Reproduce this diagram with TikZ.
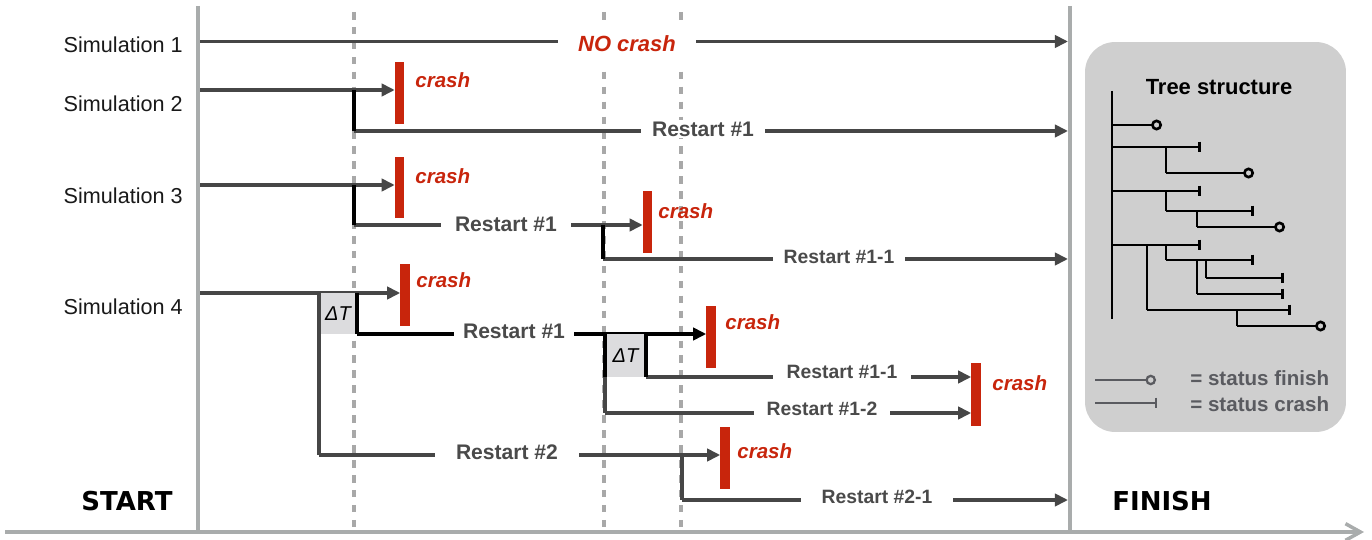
\documentclass[tikz,border=0pt]{standalone}
\usepackage{fontspec}
\setmainfont{Liberation Sans}
\newfontfamily\heavyfont{DejaVu Sans}
\usetikzlibrary{arrows.meta}
\definecolor{linegray}{HTML}{464646}
\definecolor{axisgray}{HTML}{A9ACAC}
\definecolor{dashgray}{HTML}{A8A8A8}
\definecolor{crashred}{HTML}{C8250C}
\definecolor{labelgray}{HTML}{4A4A4A}
\definecolor{boxgray}{HTML}{CFCFCF}
\definecolor{dtgray}{HTML}{DCDCDE}
\definecolor{legendgray}{HTML}{5A5B60}
\begin{document}
\begin{tikzpicture}[x=0.02cm,y=-0.02cm,
  mainline/.style={draw=linegray, line width=2.1pt},
  arr/.style={mainline, -{Triangle[length=7.5pt,width=7pt]}},
  blackarr/.style={draw=black, line width=2.3pt, -{Triangle[length=7.5pt,width=7pt]}},
  forkline/.style={draw=black, line width=2.1pt},
  guide/.style={draw=dashgray, line width=2pt, dash pattern=on 4.3pt off 4.2pt},
  axisline/.style={draw=axisgray, line width=2pt},
  crashbar/.style={fill=crashred, minimum width=0.19cm, inner sep=0pt, outer sep=0pt},
  crashtxt/.style={text=crashred, font=\fontsize{11.7}{14}\selectfont\bfseries\itshape, anchor=west, inner sep=0pt},
  simtxt/.style={font=\fontsize{12.3}{14}\selectfont, anchor=east, text=black!90, inner sep=0pt},
  rlabel/.style={fill=white, text=labelgray, font=\fontsize{12}{14}\selectfont\bfseries, inner ysep=1pt},
  rlabelsm/.style={fill=white, text=labelgray, font=\fontsize{11}{13}\selectfont\bfseries, inner ysep=1pt},
  dtbox/.style={fill=dtgray, inner sep=0pt, font=\fontsize{11.4}{13}\selectfont\itshape},
  bigtxt/.style={font=\heavyfont\fontsize{14.8}{16}\selectfont\bfseries, text=black},
  tline/.style={draw=black, line width=1.5pt},
  tfin/.style={tline, -{Circle[open,length=6.2pt,width=6.2pt]}},
  tcrash/.style={tline, -{Bar[width=6pt]}},
  legtxt/.style={text=legendgray, font=\fontsize{11.7}{14}\selectfont\bfseries, anchor=west, inner sep=0pt}
]
\useasboundingbox (0,0) rectangle (1372,540);

% ---- guides and axes
\coordinate (g1t) at (354,12);  \coordinate (g1b) at (354,530);
\coordinate (g2t) at (604,12);  \coordinate (g2b) at (604,530);
\coordinate (g3t) at (681,12);  \coordinate (g3b) at (681,530);
\draw[guide] (g1t) -- (g1b);
\draw[guide] (g2t) -- (g2b);
\draw[guide] (g3t) -- (g3b);
\coordinate (st) at (198,6);   \coordinate (sb) at (198,531);
\coordinate (ft) at (1070,6);  \coordinate (fb) at (1070,531);
\draw[axisline] (st) -- (sb);
\draw[axisline] (ft) -- (fb);
\coordinate (ax0) at (5,532); \coordinate (ax1) at (1364,532);
\draw[axisline, -{Straight Barb[length=8.5pt,width=9.5pt]}] (ax0) -- (ax1);

\node[bigtxt] (start) at (127,501) {START};
\node[bigtxt] (finish) at (1162,501) {FINISH};

% ---- Simulation 1
\node[simtxt] (sim1) at (183,45) {Simulation 1};
\coordinate (s1a) at (200,41.5); \coordinate (s1b) at (1068,41.5);
\draw[arr] (s1a) -- (s1b);
\node[fill=white, inner xsep=0.4cm, minimum height=0.96cm, text=crashred,
      font=\fontsize{12.5}{14}\selectfont\bfseries\itshape] (nocrash) at (627,44) {NO crash};

% ---- Simulation 2
\node[simtxt] (sim2) at (183,104) {Simulation 2};
\node[crashbar, minimum height=1.24cm] (b2) at (399.5,93) {};
\node[crashtxt] (c2) at (415,80) {crash};
\coordinate (s2a) at (200,90);
\draw[arr] (s2a) -- (s2a -| b2.west);
\coordinate (s2f) at (354,90); \coordinate (s2r) at (354,131); \coordinate (s2e) at (1068,131);
\draw[arr] (s2r) -- (s2e);
\draw[forkline] (s2f) -- (s2r);
\node[rlabel, inner xsep=6pt] (r2) at (703,129) {Restart \#1};

% ---- Simulation 3
\node[simtxt] (sim3) at (183,196) {Simulation 3};
\node[crashbar, minimum height=1.22cm] (b3) at (399.5,187.5) {};
\node[crashtxt] (c3) at (415,176) {crash};
\coordinate (s3a) at (200,185);
\draw[arr] (s3a) -- (s3a -| b3.west);
\coordinate (s3f) at (354,185); \coordinate (s3r) at (354,225);
\node[crashbar, minimum height=1.24cm] (b3r) at (647.5,222) {};
\node[crashtxt] (c3r) at (658,211) {crash};
\draw[arr] (s3r) -- (s3r -| b3r.west);
\draw[forkline] (s3f) -- (s3r);
\node[rlabel, inner xsep=0.28cm] (r3) at (506,224) {Restart \#1};
\coordinate (s3g) at (603,225); \coordinate (s3h) at (603,259); \coordinate (s3e) at (1068,259);
\draw[arr] (s3h) -- (s3e);
\draw[forkline] (s3g) -- (s3h);
\node[rlabelsm, inner xsep=6pt] (r31) at (839,257) {Restart \#1-1};

% ---- Simulation 4
\node[simtxt] (sim4) at (183,307) {Simulation 4};
\node[crashbar, minimum height=1.24cm] (b4) at (405,295) {};
\node[crashtxt] (c4) at (416,280) {crash};
\coordinate (s4a) at (200,293);
\draw[arr] (s4a) -- (s4a -| b4.west);
% first Delta T
\node[dtbox, minimum width=0.76cm, minimum height=0.82cm] (dt1) at (338,313.5) {ΔT};
\coordinate (d1l) at (319,293); \coordinate (d1b) at (319,455);
\coordinate (d1r) at (357,293); \coordinate (d1s) at (357,334);
\draw[mainline] (d1l) -- (d1b);
\node[crashbar, minimum height=1.24cm] (b41) at (711,337) {};
\node[crashtxt] (c41) at (725,322) {crash};
\draw[blackarr] (d1s) -- (d1s -| b41.west);
\draw[forkline] (d1r) -- (d1s);
\node[rlabel, inner xsep=5pt] (r41) at (514,331) {Restart \#1};
% second Delta T
\node[dtbox, minimum width=0.82cm, minimum height=0.86cm] (dt2) at (625.5,355.5) {ΔT};
\coordinate (d2l) at (605,334); \coordinate (d2m) at (605,377); \coordinate (d2b) at (605,413);
\coordinate (d2r) at (646,334); \coordinate (d2s) at (646,377);
\node[crashbar, minimum height=1.26cm] (b5) at (976,394.5) {};
\node[crashtxt] (c5) at (992,383) {crash};
\draw[arr] (d2s) -- (d2s -| b5.west);
\draw[arr] (d2b) -- (d2b -| b5.west);
\draw[mainline] (d2m) -- (d2b);
\draw[forkline] (d2l) -- (d2m);
\draw[forkline] (d2r) -- (d2s);
\node[rlabelsm, inner xsep=8pt] (r411) at (842,372) {Restart \#1-1};
\node[rlabelsm, inner xsep=7pt] (r412) at (822,409) {Restart \#1-2};
% Restart #2
\node[crashbar, minimum height=1.24cm] (b6) at (725,458) {};
\node[crashtxt] (c6) at (737,451) {crash};
\draw[arr] (d1b) -- (d1b -| b6.west);
\node[rlabel, inner xsep=12pt] (r42) at (507,452) {Restart \#2};
\coordinate (s6f) at (682,455); \coordinate (s6r) at (682,500); \coordinate (s6e) at (1068,500);
\draw[mainline] (s6f) -- (s6r);
\draw[arr] (s6r) -- (s6e);
\node[rlabelsm, inner xsep=12pt] (r421) at (877,497) {Restart \#2-1};

% ---- Tree structure panel
\node[fill=boxgray, rounded corners=0.6cm, minimum width=5.22cm, minimum height=7.8cm,
      inner sep=0pt] (panel) at (1215.5,237) {};
\node[font=\fontsize{12.5}{14}\selectfont\bfseries, inner sep=0pt] (ttitle) at (1219,87) {Tree structure};
\coordinate (tr0) at (1112,91); \coordinate (tr1) at (1112,319);
\draw[tline] (tr0) -- (tr1);
% branch 1
\coordinate (a1) at (1112,125); \coordinate (a1e) at (1162,125);
\draw[tfin] (a1) -- (a1e);
% branch 2
\coordinate (a2) at (1112,147); \coordinate (a2e) at (1201,147);
\draw[tcrash] (a2) -- (a2e);
\coordinate (a2s) at (1166,147); \coordinate (a2c) at (1166,173); \coordinate (a2ce) at (1254,173);
\draw[tline] (a2s) -- (a2c);
\draw[tfin] (a2c) -- (a2ce);
% branch 3
\coordinate (a3) at (1112,191); \coordinate (a3e) at (1201,191);
\draw[tcrash] (a3) -- (a3e);
\coordinate (a3s) at (1166,191); \coordinate (a3c) at (1166,211); \coordinate (a3ce) at (1254,211);
\draw[tline] (a3s) -- (a3c);
\draw[tcrash] (a3c) -- (a3ce);
\coordinate (a3t) at (1197,211); \coordinate (a3d) at (1197,227); \coordinate (a3de) at (1285,227);
\draw[tline] (a3t) -- (a3d);
\draw[tfin] (a3d) -- (a3de);
% branch 4
\coordinate (a4) at (1112,245); \coordinate (a4e) at (1201,245);
\draw[tcrash] (a4) -- (a4e);
\coordinate (a4s) at (1166,245); \coordinate (a4c) at (1166,260); \coordinate (a4ce) at (1254,260);
\draw[tline] (a4s) -- (a4c);
\draw[tcrash] (a4c) -- (a4ce);
\coordinate (a4t) at (1197,260); \coordinate (a4d) at (1197,294); \coordinate (a4de) at (1284,294);
\draw[tline] (a4t) -- (a4d);
\draw[tcrash] (a4d) -- (a4de);
\coordinate (a4u) at (1206,260); \coordinate (a4v) at (1206,278); \coordinate (a4ve) at (1284,278);
\draw[tline] (a4u) -- (a4v);
\draw[tcrash] (a4v) -- (a4ve);
\coordinate (a4p) at (1147,245); \coordinate (a4q) at (1147,310); \coordinate (a4qe) at (1291,310);
\draw[tline] (a4p) -- (a4q);
\draw[tcrash] (a4q) -- (a4qe);
\coordinate (a4r) at (1237,310); \coordinate (a4w) at (1237,326); \coordinate (a4we) at (1326,326);
\draw[tline] (a4r) -- (a4w);
\draw[tfin] (a4w) -- (a4we);
% legend
\coordinate (l1a) at (1095,380); \coordinate (l1b) at (1156,380);
\draw[draw=legendgray, line width=1.3pt, -{Circle[open,length=6pt,width=6pt]}] (l1a) -- (l1b);
\node[legtxt] (leg1) at (1190,378) {= status finish};
\coordinate (l2a) at (1095,403); \coordinate (l2b) at (1157,403);
\draw[draw=legendgray, line width=1.3pt, -{Bar[width=6pt]}] (l2a) -- (l2b);
\node[legtxt] (leg2) at (1190,404) {= status crash};
\end{tikzpicture}
\end{document}
